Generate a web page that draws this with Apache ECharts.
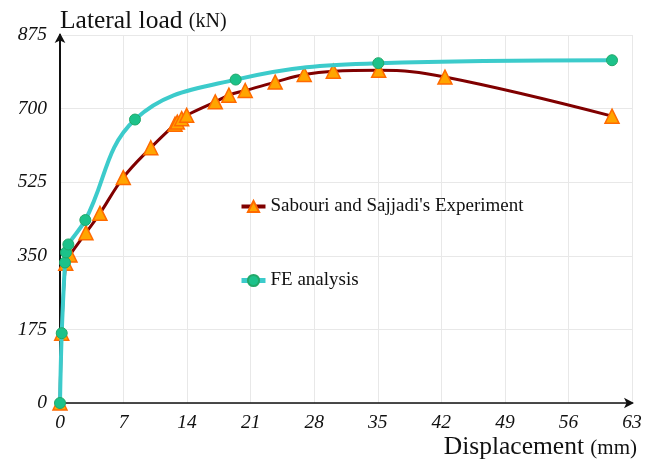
<!DOCTYPE html>
<html>
<head>
<meta charset="utf-8">
<script src="https://cdn.jsdelivr.net/npm/echarts@6/dist/echarts.min.js"></script>
<style>html,body{margin:0;padding:0;background:#fff;}#c{width:651px;height:465px;}</style>
</head>
<body>
<div id="c"></div>
<script>
const xTicks = [0, 7, 14, 21, 28, 35, 42, 49, 56, 63];
const yTicks = [0, 175, 350, 525, 700, 875];
const expName = "Sabouri and Sajjadi's Experiment";
const feName = "FE analysis";
const expDisp = [0, 0.19, 0.63, 1.1, 2.86, 4.4, 6.97, 10.0, 12.67, 12.92, 13.4, 13.95, 17.1, 18.6, 20.4, 23.7, 26.9, 30.1, 35.1, 42.4, 60.8];
const expLoad = [0, 166, 332, 352, 405, 451, 536, 607, 663, 668, 676, 684, 716, 732, 743, 763, 781, 789, 791, 775, 682];
const feDisp = [0, 0.19, 0.55, 0.66, 0.92, 2.79, 8.26, 19.35, 35.06, 60.8];
const feLoad = [0, 166, 334, 358, 377, 435, 674, 769, 808, 815];

const serif = "'Liberation Serif', 'Times New Roman', serif";
const pair = (xs, ys) => xs.map((x, i) => [x, ys[i]]);

const chart = echarts.init(document.getElementById('c'));
chart.setOption({
  animation: false,
  backgroundColor: '#fff',
  grid: { left: 60, right: 19, top: 35, bottom: 62, containLabel: false },
  legend: {
    orient: 'vertical', left: 239, top: 197, itemGap: 55, padding: 0,
    itemWidth: 24, itemHeight: 14,
    textStyle: { fontFamily: serif, fontSize: 19, color: '#111' },
    data: [
      { name: expName, lineStyle: { width: 4, color: '#800000' } },
      { name: feName, lineStyle: { width: 5, color: '#3CCBCB' } }
    ]
  },
  xAxis: {
    type: 'value', min: 0, max: 63, interval: 7,
    name: 'Displacement {s|(mm)}',
    nameLocation: 'end', nameGap: 5,
    nameTextStyle: { fontFamily: serif, fontSize: 25.5, color: '#111', align: 'right', verticalAlign: 'top', padding: [31, 0, 0, 0],
      rich: { s: { fontFamily: serif, fontSize: 21, color: '#111', padding: [3, 0, 0, 0] } } },
    axisLine: { show: true, lineStyle: { color: '#111', width: 1.5 }, symbol: ['none', 'arrow'], symbolSize: [8, 10], symbolOffset: [0, 2] },
    axisTick: { show: false },
    axisLabel: { fontFamily: serif, fontStyle: 'italic', fontSize: 19.5, color: '#111', margin: 10,
      formatter: v => xTicks.includes(v) ? String(v) : '' },
    splitLine: { show: true, lineStyle: { color: '#e8e8e8', width: 1 } }
  },
  yAxis: {
    type: 'value', min: 0, max: 875, interval: 175,
    name: 'Lateral load {s|(kN)}',
    nameLocation: 'end', nameGap: 1,
    nameTextStyle: { fontFamily: serif, fontSize: 25.5, color: '#111', align: 'left', padding: [0, 0, 0, 0],
      rich: { s: { fontFamily: serif, fontSize: 20, color: '#111', padding: [2, 0, 0, 0] } } },
    axisLine: { show: true, lineStyle: { color: '#111', width: 2 }, symbol: ['none', 'arrow'], symbolSize: [8, 10], symbolOffset: [0, 2] },
    axisTick: { show: false },
    axisLabel: { fontFamily: serif, fontStyle: 'italic', fontSize: 19.5, color: '#111', margin: 13,
      formatter: v => yTicks.includes(v) ? String(v) : '' },
    splitLine: { show: true, lineStyle: { color: '#e8e8e8', width: 1 } }
  },
  series: [
    {
      name: expName, type: 'line', smooth: 0.4, z: 2,
      data: pair(expDisp, expLoad),
      symbol: 'triangle', symbolSize: 14, showAllSymbol: true,
      lineStyle: { color: '#800000', width: 3 },
      itemStyle: { color: '#FFA500', borderColor: '#FF6A00', borderWidth: 1.5 }
    },
    {
      name: feName, type: 'line', smooth: 0.4, z: 3,
      data: pair(feDisp, feLoad),
      symbol: 'circle', symbolSize: 11, showAllSymbol: true,
      lineStyle: { color: '#3CCBCB', width: 4 },
      itemStyle: { color: '#1CC28A', borderColor: '#22A869', borderWidth: 1 }
    }
  ]
});
</script>
</body>
</html>
